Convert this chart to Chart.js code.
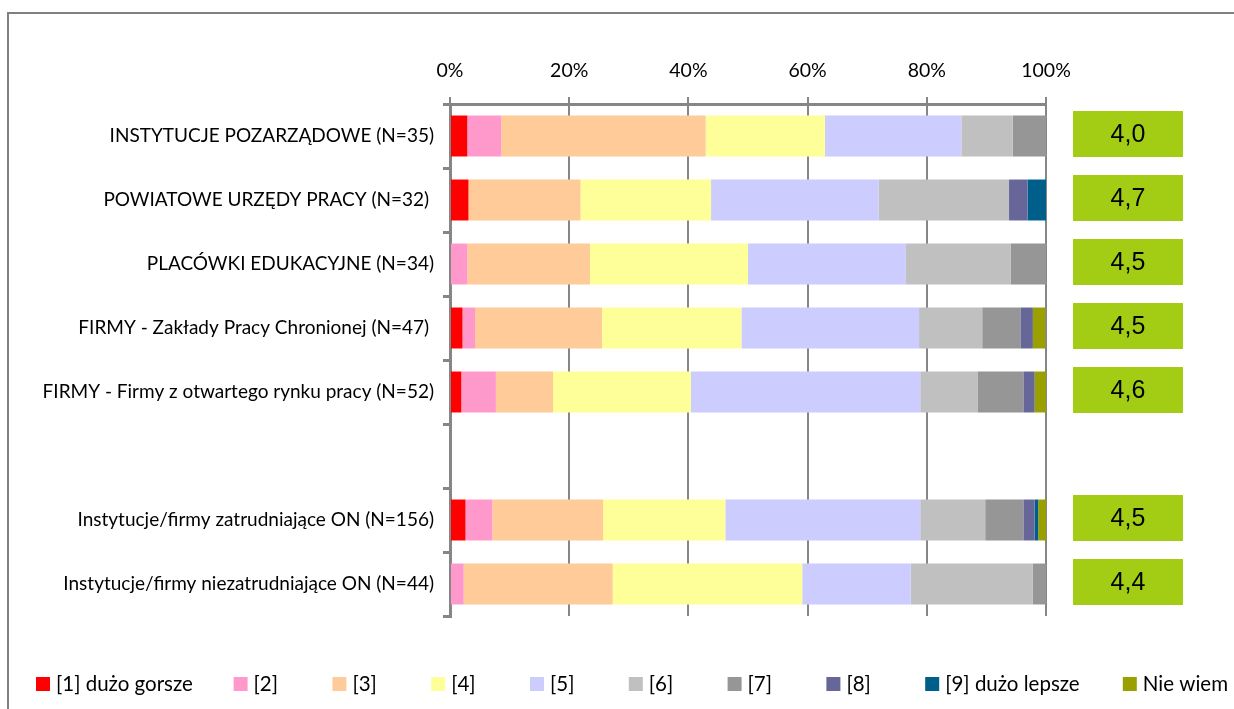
<!DOCTYPE html>
<html>
<head>
<meta charset="utf-8">
<script src="https://cdn.jsdelivr.net/npm/chart.js@4.4.1/dist/chart.umd.min.js"></script>
<style>
	body { margin: 0; background: #fff; overflow: hidden; }
	#wrap { width: 1234px; height: 709px; position: relative; }
</style>
</head>
<body>
<div id="wrap"><canvas id="myChart"></canvas></div>
<script>
// kategorie (pusta pozycja = odstęp między grupami)
var categories = [
	'INSTYTUCJE POZARZĄDOWE (N=35)',
	'POWIATOWE URZĘDY PRACY (N=32) ',
	'PLACÓWKI EDUKACYJNE (N=34)',
	'FIRMY - Zakłady Pracy Chronionej (N=47) ',
	'FIRMY - Firmy z otwartego rynku pracy (N=52)',
	'',
	'Instytucje/firmy zatrudniające ON (N=156)',
	'Instytucje/firmy niezatrudniające ON (N=44)'
];

var seriesNames = ['[1] dużo gorsze', '[2]', '[3]', '[4]', '[5]', '[6]', '[7]', '[8]', '[9] dużo lepsze', 'Nie wiem'];
var seriesColors = ['#FF0000', '#FF99CC', '#FFCC99', '#FFFF99', '#CCCCFF', '#C0C0C0', '#969696', '#666699', '#005F8A', '#99A000'];

// odsetki odpowiedzi (%)
var s1 = [2.9, 3.1, 0, 2.1, 1.9, null, 2.6, 0];
var s2 = [5.7, 0, 2.9, 2.1, 5.8, null, 4.5, 2.3];
var s3 = [34.3, 18.8, 20.6, 21.3, 9.6, null, 18.6, 25.0];
var s4 = [20.0, 21.9, 26.5, 23.4, 23.1, null, 20.5, 31.8];
var s5 = [22.9, 28.1, 26.5, 29.8, 38.5, null, 32.7, 18.2];
var s6 = [8.6, 21.9, 17.6, 10.6, 9.6, null, 10.9, 20.5];
var s7 = [5.7, 0, 5.9, 6.4, 7.7, null, 6.4, 2.3];
var s8 = [0, 3.1, 0, 2.1, 1.9, null, 1.9, 0];
var s9 = [0, 3.1, 0, 0, 0, null, 0.6, 0];
var sNW = [0, 0, 0, 2.1, 1.9, null, 1.3, 0];

// średnie oceny (zielone pola)
var means = ['4,0', '4,7', '4,5', '4,5', '4,6', null, '4,5', '4,4'];

var xTicks = [0, 20, 40, 60, 80, 100];

var FONT = 'Lato, "Open Sans", sans-serif';
var GRID = '#868686';

var allSeries = [s1, s2, s3, s4, s5, s6, s7, s8, s9, sNW];
var datasets = [];
for (var i = 0; i < allSeries.length; i++) {
	datasets.push({
		label: seriesNames[i],
		data: allSeries[i],
		backgroundColor: seriesColors[i],
		borderWidth: 0,
		barPercentage: 0.64,
		categoryPercentage: 1
	});
}

// ramka, legenda i pola ze średnią
var extras = {
	id: 'extras',
	beforeDraw: function (chart) {
		var ctx = chart.ctx;
		ctx.save();
		ctx.fillStyle = '#fff';
		ctx.fillRect(0, 0, chart.width, chart.height);
		ctx.strokeStyle = '#808080';
		ctx.lineWidth = 2;
		ctx.beginPath();
		ctx.moveTo(8, chart.height);
		ctx.lineTo(8, 13);
		ctx.lineTo(chart.width, 13);
		ctx.stroke();
		ctx.restore();
	},
	afterDatasetsDraw: function (chart) {
		var ctx = chart.ctx;
		var yScale = chart.scales.y;
		var area = chart.chartArea;
		ctx.save();
		for (var i = 0; i < means.length; i++) {
			if (means[i] == null) continue;
			var y = yScale.getPixelForValue(i);
			var x = area.right + 27;
			ctx.fillStyle = '#A3CD14';
			ctx.fillRect(x, y - 25, 110, 46);
			ctx.fillStyle = '#000';
			ctx.font = '25px "Liberation Sans", Arial, sans-serif';
			ctx.textAlign = 'center';
			ctx.textBaseline = 'middle';
			ctx.fillText(means[i], x + 55, y - 1);
		}

		// legenda w kolumnach jak w Excelu
		var slot = 98.8;
		var lx = 36;
		var ly = 684;
		ctx.font = '20.5px ' + FONT;
		ctx.textAlign = 'left';
		ctx.textBaseline = 'middle';
		for (var k = 0; k < seriesNames.length; k++) {
			ctx.fillStyle = seriesColors[k];
			ctx.fillRect(lx, ly - 7, 14, 14);
			ctx.fillStyle = '#000';
			ctx.fillText(seriesNames[k], lx + 20, ly);
			var w = 20 + ctx.measureText(seriesNames[k]).width + 10;
			lx += Math.ceil(w / slot) * slot;
		}
		ctx.restore();
	}
};

var myChart = new Chart(document.getElementById('myChart'), {
	type: 'bar',
	data: {
		labels: categories,
		datasets: datasets
	},
	options: {
		indexAxis: 'y',
		responsive: true,
		maintainAspectRatio: false,
		animation: false,
		layout: {
			padding: { left: 0, right: 188, top: 0, bottom: 93 }
		},
		plugins: {
			legend: { display: false },
			tooltip: { enabled: false }
		},
		scales: {
			x: {
				position: 'top',
				stacked: true,
				min: 0,
				max: 100,
				afterBuildTicks: function (scale) {
					scale.ticks = xTicks.map(function (v) { return { value: v }; });
				},
				afterFit: function (scale) { scale.height = 104; },
				ticks: {
					color: '#000',
					font: { family: FONT, size: 19.5 },
					padding: 15,
					callback: function (v) { return v + '%'; }
				},
				grid: { color: GRID, lineWidth: 2, tickLength: 7 },
				border: { color: GRID, width: 3 }
			},
			y: {
				stacked: true,
				afterFit: function (scale) { scale.width = 450; },
				ticks: {
					color: '#000',
					font: { family: FONT, size: 19 },
					padding: 9,
					autoSkip: false
				},
				grid: { drawOnChartArea: false, color: GRID, lineWidth: 3, tickLength: 7, offset: true },
				border: { color: GRID, width: 3 }
			}
		}
	},
	plugins: [extras]
});
</script>
</body>
</html>
